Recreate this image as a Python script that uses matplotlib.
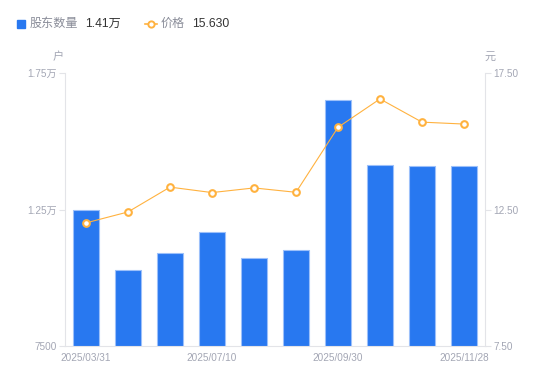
import numpy as np
import matplotlib
matplotlib.use("Agg")
import matplotlib.pyplot as plt
from matplotlib.lines import Line2D

plt.rcParams['font.family'] = ['Liberation Sans', 'Noto Sans CJK SC', 'DejaVu Sans']

# data
dates = ["2025/03/31", "2025/04/30", "2025/06/10", "2025/07/10", "2025/07/31",
         "2025/08/31", "2025/09/30", "2025/10/20", "2025/10/31", "2025/11/28"]
holders = [12480, 10280, 10890, 11680, 10720, 11020, 16510, 14120, 14090, 14110]
price = [12.01, 12.41, 13.32, 13.12, 13.29, 13.13, 15.51, 16.55, 15.70, 15.63]
left_ticks = [7500, 12500, 17500]
left_labels = ["7500", "1.25万", "1.75万"]
right_ticks = [7.5, 12.5, 17.5]

BLUE = "#2878F0"
ORANGE = "#FFB23F"
GRAY = "#A3A6B4"
AXIS = "#E3E4E8"

W, H = 550, 381
fig = plt.figure(figsize=(W / 100, H / 100), dpi=100)
ax = fig.add_axes([65 / W, (H - 346) / H, 420 / W, 273 / H])

x = np.arange(len(dates))
ax.bar(x, holders, width=0.6, color=BLUE, edgecolor="#9CC0FA", linewidth=0.8, zorder=2)
ax.set_xlim(-0.5, len(dates) - 0.5)
ax.set_ylim(7500, 17500)
ax.set_yticks(left_ticks)
ax.set_yticklabels(left_labels)
ax.set_xticks(x[::3])
ax.set_xticklabels(dates[::3])

ax2 = ax.twinx()
ax2.plot(x, price, color=ORANGE, linewidth=0.8, marker="o", markersize=4.8,
         markerfacecolor="white", markeredgecolor=ORANGE, markeredgewidth=1.5, zorder=3)
ax2.set_ylim(7.5, 17.5)
ax2.set_yticks(right_ticks)
ax2.set_yticklabels([f"{v:.2f}" for v in right_ticks])

for a in (ax, ax2):
    for s in a.spines.values():
        s.set_visible(False)
    a.tick_params(colors=GRAY, labelsize=7.2, length=4, width=0.8, color=AXIS, pad=2)
ax.spines['left'].set_visible(True)
ax.spines['left'].set_color(AXIS)
ax.spines['bottom'].set_visible(True)
ax.spines['bottom'].set_color(AXIS)
ax2.spines['right'].set_visible(True)
ax2.spines['right'].set_color(AXIS)
ax.tick_params(axis='x', length=0, pad=5)

# axis unit labels
fig.text(58 / W, 1 - 57 / H, "户", color=GRAY, fontsize=8, ha="center", va="center")
fig.text(490 / W, 1 - 57 / H, "元", color=GRAY, fontsize=8, ha="center", va="center")

# legend row
ly = 1 - 24 / H
fig.patches.append(plt.Rectangle((17 / W, 1 - 28 / H), 8 / W, 8 / H, color=BLUE,
                                 transform=fig.transFigure, figure=fig))
fig.text(30 / W, ly, "股东数量", color="#8A8D99", fontsize=8.7, va="center")
fig.text(85 / W, ly, "1.41万", color="#333333", fontsize=8.7, va="center")
fig.add_artist(Line2D([145 / W, 157 / W], [ly, ly], color=ORANGE, linewidth=1.2,
                      transform=fig.transFigure))
fig.add_artist(Line2D([151 / W], [ly], marker="o", markersize=4.5, markerfacecolor="white",
                      markeredgecolor=ORANGE, markeredgewidth=1.4, transform=fig.transFigure))
fig.text(161 / W, ly, "价格", color="#8A8D99", fontsize=8.7, va="center")
fig.text(192 / W, ly, "15.630", color="#333333", fontsize=8.7, va="center")

fig.savefig("out.png", dpi=100)
